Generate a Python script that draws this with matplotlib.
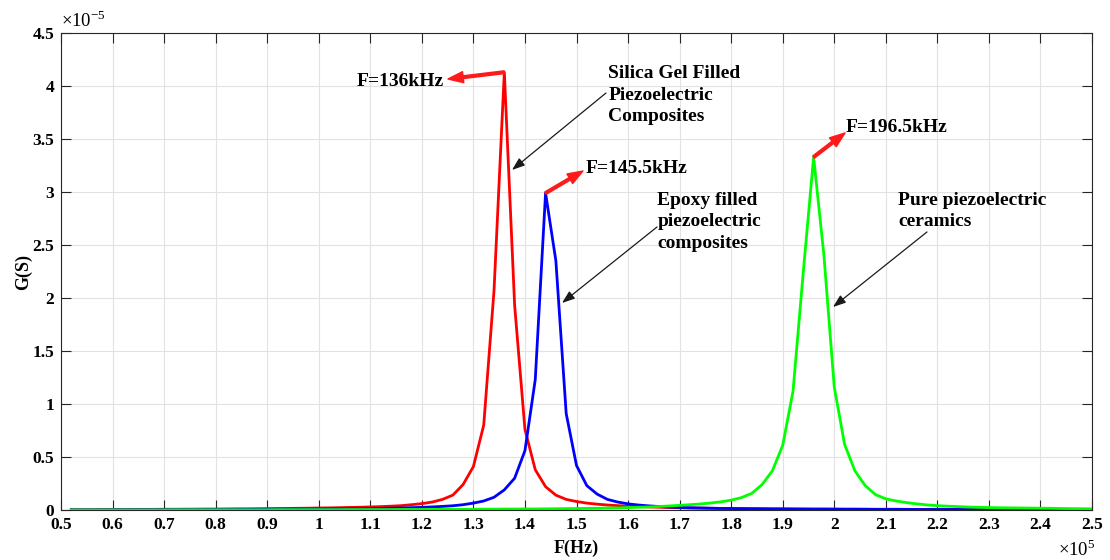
import numpy as np
import matplotlib.pyplot as plt

# frequency grid of the measurement (kHz)
freq_khz = [52, 54, 56, 58, 60, 62, 64, 66, 68, 70,
            72, 74, 76, 78, 80, 82, 84, 86, 88, 90,
            92, 94, 96, 98, 100, 102, 104, 106, 108, 110,
            112, 114, 116, 118, 120, 122, 124, 126, 128, 130,
            132, 134, 136, 138, 140, 142, 144, 146, 148, 150,
            152, 154, 156, 158, 160, 162, 164, 166, 168, 170,
            172, 174, 176, 178, 180, 182, 184, 186, 188, 190,
            192, 194, 196, 198, 200, 202, 204, 206, 208, 210,
            212, 214, 216, 218, 220, 222, 224, 226, 228, 230,
            232, 234, 236, 238, 240, 242, 244, 246, 248, 250]

# conductance G, unit 1e-5 S
g_silica = [0.004, 0.004, 0.004, 0.005, 0.005, 0.005, 0.006, 0.006, 0.006, 0.007,
            0.007, 0.008, 0.008, 0.009, 0.009, 0.010, 0.011, 0.011, 0.012, 0.013,
            0.014, 0.015, 0.016, 0.017, 0.019, 0.020, 0.022, 0.024, 0.026, 0.029,
            0.032, 0.036, 0.041, 0.050, 0.060, 0.075, 0.100, 0.140, 0.240, 0.410,
            0.800, 2.070, 4.130, 1.930, 0.760, 0.380, 0.220, 0.140, 0.100, 0.080,
            0.065, 0.055, 0.047, 0.041, 0.036, 0.032, 0.029, 0.026, 0.023, 0.021,
            0.019, 0.018, 0.016, 0.015, 0.014, 0.013, 0.012, 0.012, 0.011, 0.010,
            0.010, 0.009, 0.009, 0.009, 0.008, 0.008, 0.008, 0.007, 0.007, 0.007,
            0.007, 0.006, 0.006, 0.006, 0.006, 0.006, 0.005, 0.005, 0.005, 0.005,
            0.005, 0.005, 0.005, 0.004, 0.004, 0.004, 0.004, 0.004, 0.004, 0.004]

g_epoxy = [0.002, 0.002, 0.002, 0.002, 0.003, 0.003, 0.003, 0.003, 0.003, 0.003,
           0.004, 0.004, 0.004, 0.004, 0.005, 0.005, 0.005, 0.006, 0.006, 0.006,
           0.007, 0.007, 0.008, 0.008, 0.009, 0.010, 0.010, 0.011, 0.012, 0.013,
           0.015, 0.017, 0.019, 0.022, 0.025, 0.029, 0.034, 0.040, 0.050, 0.065,
           0.085, 0.120, 0.190, 0.300, 0.560, 1.230, 2.990, 2.350, 0.910, 0.420,
           0.230, 0.150, 0.100, 0.075, 0.058, 0.047, 0.039, 0.033, 0.028, 0.024,
           0.021, 0.019, 0.017, 0.015, 0.014, 0.013, 0.012, 0.011, 0.010, 0.010,
           0.009, 0.009, 0.008, 0.008, 0.008, 0.007, 0.007, 0.007, 0.006, 0.006,
           0.006, 0.006, 0.005, 0.005, 0.005, 0.005, 0.005, 0.005, 0.004, 0.004,
           0.004, 0.004, 0.004, 0.004, 0.004, 0.004, 0.003, 0.003, 0.003, 0.003]

g_pure = [0.001, 0.001, 0.001, 0.001, 0.001, 0.001, 0.001, 0.001, 0.001, 0.001,
          0.002, 0.002, 0.002, 0.002, 0.002, 0.002, 0.002, 0.002, 0.002, 0.002,
          0.003, 0.003, 0.003, 0.003, 0.003, 0.003, 0.003, 0.004, 0.004, 0.004,
          0.004, 0.004, 0.005, 0.005, 0.005, 0.006, 0.006, 0.006, 0.007, 0.007,
          0.008, 0.008, 0.009, 0.009, 0.010, 0.010, 0.011, 0.012, 0.013, 0.014,
          0.015, 0.016, 0.018, 0.020, 0.023, 0.026, 0.029, 0.033, 0.038, 0.044,
          0.050, 0.057, 0.066, 0.077, 0.093, 0.117, 0.157, 0.240, 0.370, 0.610,
          1.120, 2.250, 3.330, 2.400, 1.160, 0.620, 0.370, 0.230, 0.145, 0.105,
          0.085, 0.070, 0.058, 0.048, 0.041, 0.036, 0.032, 0.028, 0.025, 0.023,
          0.021, 0.020, 0.019, 0.018, 0.017, 0.016, 0.014, 0.013, 0.012, 0.011]

x_ticks = [0.5, 0.6, 0.7, 0.8, 0.9, 1.0, 1.1, 1.2, 1.3, 1.4, 1.5,
           1.6, 1.7, 1.8, 1.9, 2.0, 2.1, 2.2, 2.3, 2.4, 2.5]
y_ticks = [0, 0.5, 1, 1.5, 2, 2.5, 3, 3.5, 4, 4.5]

plt.rcParams['font.family'] = ['Liberation Serif', 'DejaVu Serif']
plt.rcParams['mathtext.fontset'] = 'custom'
plt.rcParams['mathtext.rm'] = 'Liberation Serif'

W, H = 1110, 560
fig = plt.figure(figsize=(W / 100, H / 100), dpi=100)
ax = fig.add_axes([61 / W, 1 - 510 / H, 1031 / W, 477 / H])

x = np.array(freq_khz) / 100.0  # in units of 1e5 Hz
ax.plot(x, g_silica, color='#ff0000', lw=2.0)
ax.plot(x, g_epoxy, color='#0000ff', lw=2.0)
ax.plot(x, g_pure, color='#00ff00', lw=2.0)

ax.set_xlim(0.5, 2.5)
ax.set_ylim(0, 4.5)
ax.set_xticks(x_ticks)
ax.set_xticklabels(['%g' % v for v in x_ticks])
ax.set_yticks(y_ticks)
ax.set_yticklabels(['%g' % v for v in y_ticks])
ax.grid(True, color='#e2e2e2', lw=0.8)
ax.set_axisbelow(True)
ax.tick_params(direction='in', length=7, width=0.8, top=True, right=True,
               color='#262626', labelsize=12.5, pad=5)
for lbl in ax.get_xticklabels() + ax.get_yticklabels():
    lbl.set_fontweight('bold')
for sp in ax.spines.values():
    sp.set_color('#262626')
    sp.set_linewidth(0.8)

ax.set_xlabel('F(Hz)', fontsize=13, fontweight='bold')
ax.set_ylabel('G(S)', fontsize=13, fontweight='bold')
ax.xaxis.set_label_coords(0.5, -0.062)
ax.yaxis.set_label_coords(-0.028, 0.5)

ax.text(0.0, 1.004, '×10$^{-5}$', transform=ax.transAxes,
        ha='left', va='bottom', fontsize=13.5)
fig.text(1058 / W, 1 - 556 / H, '×10$^{5}$', ha='left', va='baseline', fontsize=13.5)

# red arrows from each resonance peak to its frequency label
red_arrow = dict(arrowstyle='simple,head_length=1.1,head_width=0.8,tail_width=0.2',
                 color='#ff1a1a', shrinkA=0, shrinkB=0, mutation_scale=10)
peaks = [(g_silica, (1.2507, 4.066), 'F=136kHz', (1.074, 4.038)),
         (g_epoxy, (1.5126, 3.198), 'F=145.5kHz', (1.518, 3.224)),
         (g_pure, (2.0209, 3.557), 'F=196.5kHz', (2.023, 3.610))]
for g, tip, label, pos in peaks:
    i = int(np.argmax(g))
    ax.annotate('', xy=tip, xytext=(x[i], g[i]), arrowprops=red_arrow)
    ax.text(pos[0], pos[1], label, fontsize=14, fontweight='bold',
            ha='left', va='center')

# black callouts naming each curve
black_arrow = dict(arrowstyle='-|>,head_length=0.55,head_width=0.2',
                   color='#1a1a1a', lw=0.9, shrinkA=0, shrinkB=0, mutation_scale=14)
callouts = [('Silica Gel Filled\nPiezoelectric\nComposites', (1.5617, 3.915),
             (1.5572, 3.934), (1.3749, 3.208)),
            ('Epoxy filled\npiezoelectric\ncomposites', (1.6567, 2.720),
             (1.6562, 2.670), (1.4719, 1.953)),
            ('Pure piezoelectric\nceramics', (2.1242, 2.821),
             (2.1799, 2.623), (1.9976, 1.915))]
for label, pos, start, tip in callouts:
    ax.text(pos[0], pos[1], label, fontsize=14, fontweight='bold',
            ha='left', va='center', linespacing=1.35)
    ax.annotate('', xy=tip, xytext=start, arrowprops=black_arrow)

fig.savefig('out.png', dpi=100)
